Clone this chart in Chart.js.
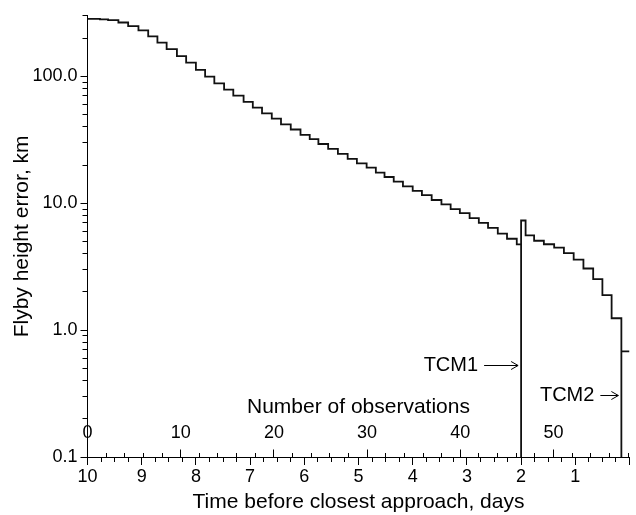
<!DOCTYPE html>
<html>
<head>
<meta charset="utf-8">
<script src="https://cdn.jsdelivr.net/npm/chart.js@4.4.1/dist/chart.umd.min.js"></script>
<style>
  html, body { margin: 0; padding: 0; background: #fff; }
  #wrap { width: 636px; height: 515px; }
</style>
</head>
<body>
<div id="wrap"><canvas id="c" width="636" height="515"></canvas></div>
<script>
// ---- Data ----
// Time before closest approach (days) at the start of each step
const timeDays = [
  10.0, 9.77, 9.62, 9.43, 9.25, 9.06, 8.88, 8.71, 8.54, 8.35,
  8.18, 8.00, 7.83, 7.66, 7.48, 7.31, 7.12, 6.95, 6.78, 6.60,
  6.43, 6.25, 6.07, 5.90, 5.74, 5.56, 5.38, 5.20, 5.03, 4.85,
  4.68, 4.52, 4.35, 4.18, 4.00, 3.83, 3.65, 3.47, 3.30, 3.13,
  2.95, 2.78, 2.61, 2.43, 2.26, 2.08, 2.00, 2.00, 1.917, 1.76,
  1.58, 1.39, 1.21, 1.03, 0.85, 0.67, 0.50, 0.33, 0.15, 0.15, 0.0
];
// Flyby height error (km) from that time on
const flybyErrorKm = [
  284, 281, 277.7, 265.6, 248.5, 230.1, 206.7, 184.6, 163.7, 144.4,
  128.1, 112.4, 99.6, 87.9, 78.5, 70.5, 63.0, 56.6, 51.1, 46.5,
  41.9, 38.1, 34.6, 32.0, 29.3, 26.8, 24.5, 22.4, 20.6, 19.1,
  17.4, 16.1, 14.8, 13.6, 12.5, 11.6, 10.6, 9.8, 8.98, 8.36,
  7.64, 6.99, 6.39, 5.77, 5.25, 4.74, 0.1, 7.31, 5.57, 5.06,
  4.75, 4.46, 4.05, 3.60, 3.06, 2.52, 1.89, 1.24, 0.1, 0.68, 0.68
];
// Axis ticks
const yTickValues = [
  0.1, 0.2, 0.3, 0.4, 0.5, 0.6, 0.7, 0.8, 0.9,
  1, 2, 3, 4, 5, 6, 7, 8, 9,
  10, 20, 30, 40, 50, 60, 70, 80, 90,
  100, 200, 300
];
const yMajorTickValues = [0.1, 1, 10, 100];
const obsAtAxisEnd = 58.15;   // number of observations at the right end of the axis
// Texts
const xTitle = 'Time before closest approach, days';
const yTitle = 'Flyby height error, km';
const obsTitle = 'Number of observations';
// Manoeuvre annotations
const tcmLabels = ['TCM1', 'TCM2'];
const tcmDays = [2.0, 0.15];
const tcmLabelErr = [0.53, 0.31];
const tcmArrowLen = [34, 18];

// ---- Chart ----
const FONT = "'Liberation Sans', Arial, sans-serif";
Chart.defaults.font.family = FONT;
Chart.defaults.color = '#000';

const isDecade = v => Math.abs(Math.log10(v) - Math.round(Math.log10(v))) < 1e-6;

const annotPlugin = {
  id: 'annot',
  afterDraw(chart) {
    const { ctx, scales } = chart;
    const xs = scales.x, ys = scales.y;
    ctx.save();
    ctx.fillStyle = '#000';
    ctx.strokeStyle = '#000';
    ctx.font = '21px ' + FONT;
    ctx.textAlign = 'center';
    ctx.textBaseline = 'middle';
    ctx.fillText(obsTitle, (xs.left + xs.right) / 2, ys.getPixelForValue(0.1) - 50);

    ctx.font = '20px ' + FONT;
    ctx.textAlign = 'right';
    ctx.lineWidth = 1;
    tcmLabels.forEach((lab, i) => {
      const tipX = xs.getPixelForValue(tcmDays[i]) - 3;
      const y = Math.round(ys.getPixelForValue(tcmLabelErr[i])) + 0.5;
      const len = tcmArrowLen[i];
      ctx.beginPath();
      ctx.moveTo(tipX - len, y);
      ctx.lineTo(tipX, y);
      ctx.moveTo(tipX - 7, y - 4);
      ctx.lineTo(tipX, y);
      ctx.lineTo(tipX - 7, y + 4);
      ctx.stroke();
      ctx.fillText(lab, tipX - len - 6, y);
    });
    ctx.restore();
  }
};

const points = timeDays.map((t, i) => ({ x: t, y: flybyErrorKm[i] }));

new Chart(document.getElementById('c').getContext('2d'), {
  type: 'line',
  data: {
    datasets: [{
      data: points,
      stepped: true,
      borderColor: '#111',
      borderWidth: 1.8,
      pointRadius: 0,
      fill: false,
      xAxisID: 'x',
      yAxisID: 'y'
    }]
  },
  options: {
    responsive: false,
    animation: false,
    devicePixelRatio: 1,
    layout: { padding: { left: 0, top: 11, right: 6.5, bottom: 0 } },
    plugins: { legend: { display: false }, tooltip: { enabled: false } },
    scales: {
      x: {
        type: 'linear', reverse: true, min: 0, max: 10, position: 'bottom',
        afterFit: s => { s.height = 58; },
        ticks: {
          stepSize: 1, autoSkip: false, maxRotation: 0, padding: 1,
          font: { size: 18 }, color: '#000',
          callback: v => (v === 0 ? '' : String(v))
        },
        grid: { drawOnChartArea: false, tickLength: 8, tickColor: '#000', tickWidth: 1 },
        border: { color: '#000', width: 1 },
        title: { display: true, text: xTitle, font: { size: 21 }, color: '#000', padding: { top: 0, bottom: 0 } }
      },
      xDayMinor: {
        type: 'linear', reverse: true, min: 0, max: 10, position: { y: 0.1 },
        ticks: { stepSize: 0.25, display: false },
        grid: { drawOnChartArea: false, tickLength: 5, tickColor: '#000', tickWidth: 1 },
        border: { display: false }
      },
      xObs: {
        type: 'linear', min: 0, max: obsAtAxisEnd, position: { y: 0.1 },
        ticks: {
          stepSize: 10, includeBounds: false, autoSkip: false, maxRotation: 0,
          padding: -27, font: { size: 18 }, color: '#000'
        },
        grid: { drawOnChartArea: false, tickLength: -7.5, tickColor: '#000', tickWidth: 1 },
        border: { display: false }
      },
      xObsMinor: {
        type: 'linear', min: 0, max: obsAtAxisEnd, position: { y: 0.1 },
        ticks: { stepSize: 2, includeBounds: false, display: false },
        grid: { drawOnChartArea: false, tickLength: -4, tickColor: '#000', tickWidth: 1 },
        border: { display: false }
      },
      y: {
        type: 'logarithmic', min: 0.1, max: 300, position: 'left',
        afterFit: s => { s.width = 87.5; },
        afterBuildTicks: s => { s.ticks = yTickValues.map(v => ({ value: v })); },
        ticks: {
          autoSkip: false, padding: 5, font: { size: 18 }, color: '#000',
          callback: v => (isDecade(v) ? Number(v).toFixed(1) : '')
        },
        grid: { drawOnChartArea: false, tickLength: 5, tickColor: '#000', tickWidth: 1 },
        border: { color: '#000', width: 1 },
        title: { display: true, text: yTitle, font: { size: 21 }, color: '#000', padding: { top: 10, bottom: 0 } }
      },
      yMajor: {
        type: 'logarithmic', min: 0.1, max: 300, position: { x: 10 },
        afterBuildTicks: s => { s.ticks = yMajorTickValues.map(v => ({ value: v })); },
        ticks: { display: false },
        grid: { drawOnChartArea: false, tickLength: 7.5, tickColor: '#000', tickWidth: 1 },
        border: { display: false }
      }
    }
  },
  plugins: [annotPlugin]
});
</script>
</body>
</html>
